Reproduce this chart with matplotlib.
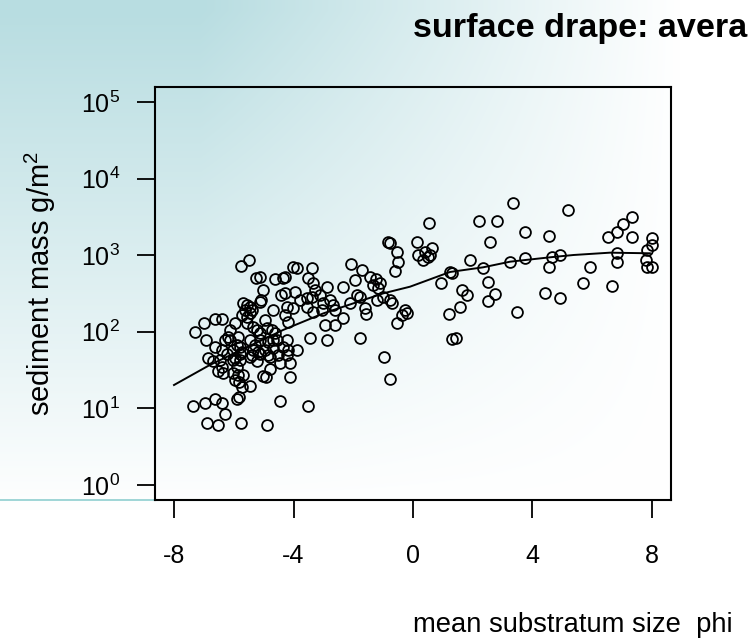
import numpy as np
import matplotlib
matplotlib.use("Agg")
import matplotlib.pyplot as plt
from matplotlib.lines import Line2D
from matplotlib.ticker import FixedLocator, NullLocator, LogFormatterSciNotation

plt.rcParams['font.family'] = ['Liberation Sans', 'DejaVu Sans']
plt.rcParams['mathtext.fontset'] = 'custom'
plt.rcParams['mathtext.rm'] = 'Liberation Sans'
plt.rcParams['mathtext.it'] = 'Liberation Sans:italic'
plt.rcParams['mathtext.bf'] = 'Liberation Sans:bold'

# ---------------- data ----------------
phi = [
    -7.35, -6.96, -6.63, -6.40, -6.28, -6.91, -6.52, -5.76, -4.90, -4.46, -3.50, -5.89, -5.84, -0.97, -0.77,
    -7.30, -7.00, -6.63, -6.40, -6.92, -6.63, -6.85, -6.68, -6.40, -6.35, -6.53, -5.87, -5.81, -5.73, -5.46,
    -5.01, -4.92, -4.12, -5.96, -6.02,
    -5.68, -5.57, -5.62, -5.46, -5.73, -5.57, -5.46, -5.12, -5.85, -6.13, -6.02, -5.79, -6.02, -6.24, -5.79,
    -5.90, -5.23, -5.12, -5.46, -5.35, -5.12, -5.46, -4.95, -4.79, -4.68, -4.73, -4.90, -4.95, -4.62, -4.56,
    -4.23, -4.17, -3.89, -4.12, -4.45, -6.13, -6.29, -5.96, -6.18, -6.40, -5.79, -5.35, -5.12, -4.34, -4.23,
    -4.84, -5.23,
    -5.96, -6.46, -5.68, -5.18, -4.84, -4.68, -4.51, -4.79, -5.29, -5.40, -5.73, -5.90,
    -5.77, -5.48, -5.26, -5.12, -5.03, -4.62, -4.34, -4.42, -4.68, -5.09, -5.40, -5.57,
    -4.01, -3.89, -3.37, -4.28, -3.50, -3.34, -3.28, -3.11, -3.39, -4.28, -3.95, -3.78, -3.56, -2.89, -2.33,
    -2.78, -2.67, -2.61, -3.00, -3.06, -3.34, -2.11, -1.89, -1.78, -1.61, -1.57, -1.22, -0.99, -0.77, -0.71,
    -0.27, -0.21, -0.38, -0.55, -4.23, -4.01, -4.28, -4.17, -3.56, -2.95, -2.61, -2.33, -3.45, -2.87, -1.78,
    -2.08, -1.72, -1.94, -1.44, -1.24, -1.11, -1.34, -1.17, -0.83, -0.77, -0.55, -0.49, -0.60, 0.12, 0.18,
    0.55, 0.63, 0.40, 0.51, 0.34, 0.57,
    0.93, 1.24, 1.29, 1.91, 2.35, 2.22, 2.80, 2.58, 3.36, 3.75, 3.25, 3.75, 4.55, 4.55, 4.64,
    4.92, 2.52, 1.63, 1.80, 2.74, 2.52, 1.57, 1.21, 3.47, 4.42, 1.29, 1.44,
    5.20, 7.32, 7.04, 6.82, 6.54, 7.32, 7.99, 7.99, 7.82, 7.80, 7.84, 7.99, 6.82, 6.82, 5.92,
    5.70, 6.65, 4.92,
]
mass = [
    10.9, 11.7, 13.4, 11.7, 8.4, 6.4, 6.1, 6.5, 6.1, 12.5, 10.8, 13.3, 13.9, 46.5, 24.0,
    99, 131, 147, 147, 77, 64, 46, 41, 35, 28.7, 30.8, 27.3, 22.3, 19.2, 19.8,
    26.5, 25.7, 25.9, 23.5, 28.7,
    236, 224, 193, 213, 166, 157, 175, 247, 86, 78, 58, 52, 43, 52, 43,
    35, 106, 78, 78, 58, 52, 47, 58, 47, 78, 106, 111, 143, 96, 78,
    78, 58, 58, 39, 39, 106, 78, 129, 86, 58, 64, 117, 96, 64, 50,
    74, 41,
    45, 43, 27, 55, 50, 61, 50, 33, 67, 50, 55, 67,
    716, 866, 504, 524, 351, 485, 504, 302, 193, 260, 193, 129,
    708, 675, 675, 524, 500, 430, 351, 302, 287, 321, 334, 260, 276, 388, 388,
    260, 224, 193, 236, 193, 183, 236, 302, 287, 205, 171, 260, 287, 260, 236,
    193, 175, 166, 131, 213, 203, 166, 136, 213, 123, 123, 150, 82, 78, 82,
    761, 641, 475, 519, 489, 434, 408, 373, 1500, 1430, 1111, 815, 622, 1500, 1006,
    2655, 1231, 1111, 957, 866, 1006,
    430, 604, 581, 866, 675, 2820, 2820, 1473, 4760, 2028, 823, 927, 1782, 708, 939,
    997, 451, 351, 302, 309, 255, 209, 171, 183, 324, 80, 84,
    3890, 3184, 2531, 2028, 1745, 1745, 1663, 1359, 1170, 866, 708, 708, 1079, 823, 708,
    430, 396, 274,
]
fit_phi = [-8.0, -6.8, -4.34, -3.0, -0.99, -0.10, 1.24, 2.35, 3.25, 4.59, 5.37, 6.59, 7.93]
fit_mass = [20.2, 36.9, 106, 174, 318, 388, 604, 695, 823, 939, 1006, 1079, 1059]

x_ticks = [-8, -4, 0, 4, 8]
y_ticks = [1e0, 1e1, 1e2, 1e3, 1e4, 1e5]

title_text = "surface drape: avera"
x_label = "mean substratum size  phi"
y_label = "sediment mass g/m$^2$"

# ---------------- figure ----------------
W, H = 751, 643
fig = plt.figure(figsize=(W / 100, H / 100), dpi=100)

# background gradient
bg = fig.add_axes([0, 0, 1, 1], zorder=-10)
bg.axis('off')
yy, xx = np.mgrid[0:H, 0:W].astype(float)
fx = np.clip((680 - xx) / 480, 0, 1)
fy = np.clip((510 - yy) / 500, 0, 1)
t = np.clip(fx * fy, 0, 1)
teal = np.array([184, 221, 225]) / 255.0
img = 1 - t[..., None] * (1 - teal)
bg.imshow(img, extent=(0, 1, 0, 1), aspect='auto', origin='upper', interpolation='bilinear')
bg.set_xlim(0, 1)
bg.set_ylim(0, 1)

fig.add_artist(Line2D([0, 155 / W], [1 - 500 / H, 1 - 500 / H], color='#8fcfd0', lw=1.2,
                      transform=fig.transFigure, zorder=-5))

ax = fig.add_axes([155 / W, 1 - 500 / H, 516 / W, 413 / H])
ax.patch.set_alpha(0)
ax.set_yscale('log')
ax.set_xlim(-8.636, 8.636)
ax.set_ylim(10 ** -0.196, 10 ** 5.196)

ax.plot(phi, mass, linestyle='none', marker='o', ms=7.8, mfc='none', mec='black', mew=1.3)
ax.plot(fit_phi, fit_mass, color='black', lw=1.4)

ax.xaxis.set_major_locator(FixedLocator(x_ticks))
ax.yaxis.set_major_locator(FixedLocator(y_ticks))
ax.yaxis.set_minor_locator(NullLocator())
ax.yaxis.set_major_formatter(LogFormatterSciNotation())
ax.set_xticklabels([str(v) for v in x_ticks])

for s in ax.spines.values():
    s.set_linewidth(1.5)
    s.set_color('black')

ax.tick_params(axis='x', length=13, width=1.3, pad=19, labelsize=18)
ax.tick_params(axis='y', length=13, width=1.3, pad=12, labelsize=18)

fig.text(413 / W, 1 - 28 / H, title_text, ha='left', va='center', fontsize=24.6, fontweight='bold')
fig.text(413 / W, 1 - 625 / H, x_label, ha='left', va='center', fontsize=19.7)
fig.text(40 / W, 1 - 283 / H, y_label, ha='center', va='center', rotation=90, fontsize=21)

fig.savefig('out.png', dpi=100)
